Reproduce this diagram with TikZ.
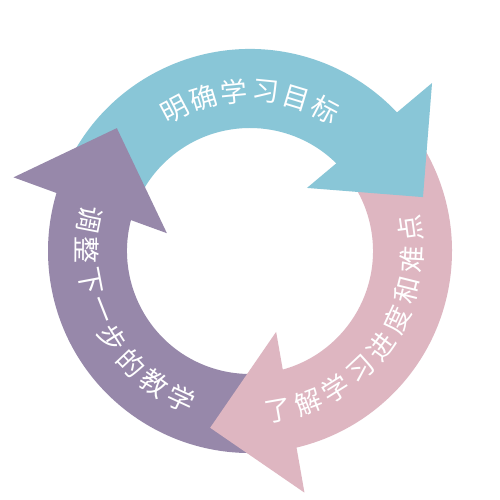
\documentclass[tikz,border=0pt]{standalone}
\usepackage{fontspec}
\newfontfamily\cjk{Noto Sans CJK SC}
\definecolor{tealc}{HTML}{89C6D7}
\definecolor{pinkc}{HTML}{DEB6C1}
\definecolor{purplec}{HTML}{9788AA}
\tikzset{
  lbl/.style={text=white, inner sep=0pt, font=\fontsize{27}{30}\selectfont\cjk},
}
\newcommand\myshaft[2]{%
  \begin{scope}[rotate=#1]
    \fill[#2] (160:202) arc[start angle=160, end angle=40, radius=202pt]
      -- (40:123) arc[start angle=40, end angle=160, radius=123pt] -- cycle;
  \end{scope}}
\newcommand\myhead[2]{%
  \begin{scope}[rotate=#1]
    \fill[#2] (42.7:247.7) -- (17.3:181.2) -- (47.9:85) -- cycle;
  \end{scope}}
\begin{document}
\begin{tikzpicture}[x=1pt,y=1pt]
\useasboundingbox (0,0) rectangle (500,500);
\fill[white] (0,0) rectangle (500,500);
\begin{scope}[shift={(250,249)}]
  \myshaft{0}{tealc}
  \myshaft{120}{purplec}
  \myshaft{-120}{pinkc}
  \myhead{0}{tealc}
  \myhead{120}{purplec}
  \myhead{-120}{pinkc}
  \foreach \c [count=\i from 0] in {明,确,学,习,目,标}{
    \pgfmathsetmacro\a{90+11.2*(2.5-\i)}
    \node[lbl, rotate=\a-90] (ta\i) at (\a:160) {\c};
  }
  \foreach \c [count=\i from 0] in {了,解,学,习,进,度,和,难,点}{
    \pgfmathsetmacro\a{-36+11*(\i-4)}
    \node[lbl, rotate=\a+90] (tb\i) at (\a:162) {\c};
  }
  \foreach \c [count=\i from 0] in {调,整,下,一,步,的,教,学}{
    \pgfmathsetmacro\a{207+10.9*(\i-3.5)}
    \node[lbl, rotate=\a+90] (tc\i) at (\a:163) {\c};
  }
\end{scope}
\end{tikzpicture}
\end{document}
